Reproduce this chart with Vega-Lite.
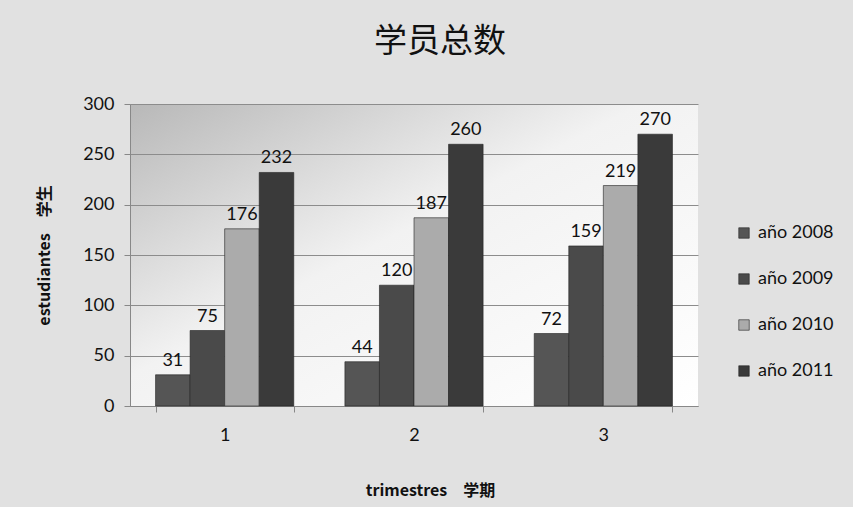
{
  "$schema": "https://vega.github.io/schema/vega-lite/v6.json",
  "autosize": {"type": "none"},
  "width": 568,
  "height": 302,
  "padding": {"left": 130, "top": 104, "right": 155, "bottom": 101},
  "background": "#e1e1e1",
  "title": {
    "text": "学员总数",
    "font": "Noto Sans CJK SC",
    "fontSize": 33,
    "fontWeight": "normal",
    "color": "#111111",
    "anchor": "middle",
    "dx": 26,
    "offset": 36
  },
  "config": {
    "view": {
      "stroke": null,
      "fill": {
        "gradient": "linear",
        "x1": 0, "y1": 0, "x2": 1, "y2": 1,
        "stops": [
          {"offset": 0, "color": "#b8b8b8"},
          {"offset": 0.45, "color": "#f2f2f2"},
          {"offset": 1, "color": "#ffffff"}
        ]
      }
    },
    "axis": {"labelFont": "Lato", "titleFont": "Noto Sans CJK SC", "labelColor": "#111111", "titleColor": "#111111"},
    "legend": {"labelFont": "Lato"}
  },
  "data": {
    "values": [
      {"trimestre": "1", "year": "año 2008", "value": 31},
      {"trimestre": "1", "year": "año 2009", "value": 75},
      {"trimestre": "1", "year": "año 2010", "value": 176},
      {"trimestre": "1", "year": "año 2011", "value": 232},
      {"trimestre": "2", "year": "año 2008", "value": 44},
      {"trimestre": "2", "year": "año 2009", "value": 120},
      {"trimestre": "2", "year": "año 2010", "value": 187},
      {"trimestre": "2", "year": "año 2011", "value": 260},
      {"trimestre": "3", "year": "año 2008", "value": 72},
      {"trimestre": "3", "year": "año 2009", "value": 159},
      {"trimestre": "3", "year": "año 2010", "value": 219},
      {"trimestre": "3", "year": "año 2011", "value": 270}
    ]
  },
  "encoding": {
    "x": {
      "field": "trimestre",
      "type": "nominal",
      "scale": {"paddingInner": 0.27, "paddingOuter": 0.135},
      "axis": {
        "title": "trimestres　学期",
        "titleFontSize": 16,
        "titleFontWeight": "bold",
        "titlePadding": 38,
        "titleX": 300,
        "labelAngle": 0,
        "labelFontSize": 18,
        "labelPadding": 14,
        "tickBand": "extent",
        "tickSize": 6,
        "tickColor": "#888888",
        "domainColor": "#888888"
      }
    },
    "xOffset": {"field": "year", "type": "nominal", "scale": {"paddingInner": 0, "paddingOuter": 0}},
    "y": {
      "field": "value",
      "type": "quantitative",
      "scale": {"domain": [0, 300]},
      "axis": {
        "title": "estudiantes　学生",
        "titleFontSize": 16,
        "titleFontWeight": "bold",
        "titlePadding": 30,
        "values": [0, 50, 100, 150, 200, 250, 300],
        "labelFontSize": 18,
        "labelPadding": 10,
        "tickSize": 6,
        "tickColor": "#888888",
        "domainColor": "#888888",
        "gridColor": "#8c8c8c",
        "gridWidth": 1
      }
    }
  },
  "layer": [
    {
      "mark": {"type": "bar", "stroke": "#222222", "strokeWidth": 0.6},
      "encoding": {
        "color": {
          "field": "year",
          "type": "nominal",
          "scale": {"range": ["#555555", "#4a4a4a", "#ababab", "#3a3a3a"]},
          "legend": {
            "title": null,
            "orient": "none",
            "legendX": 605,
            "legendY": 120,
            "symbolType": "square",
            "symbolSize": 110,
            "symbolStrokeColor": "#222222",
            "symbolStrokeWidth": 0.6,
            "labelFontSize": 18,
            "labelColor": "#111111",
            "rowPadding": 28,
            "labelOffset": 5
          }
        }
      }
    },
    {
      "mark": {"type": "text", "dy": -14, "fontSize": 18, "font": "Lato", "color": "#111111"},
      "encoding": {"text": {"field": "value", "type": "quantitative"}}
    }
  ]
}
